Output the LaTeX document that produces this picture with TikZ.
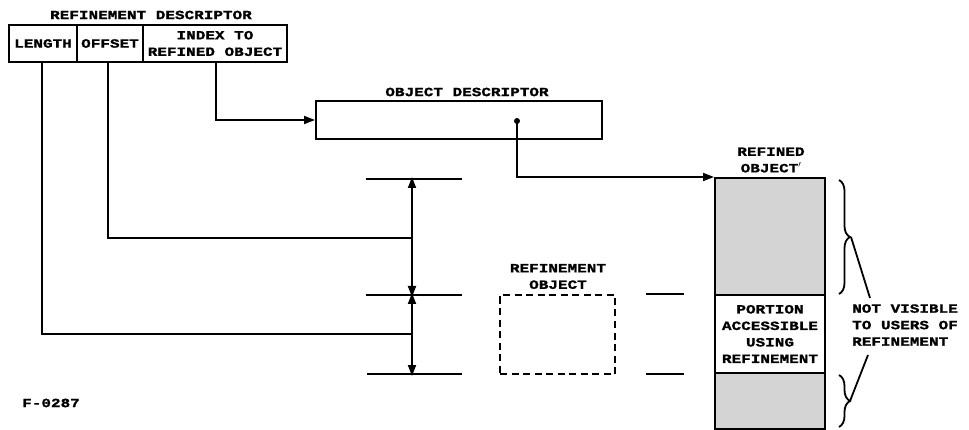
\documentclass[tikz,border=0pt]{standalone}
\usepackage{fontspec}
\newfontfamily\tw{Liberation Mono Bold}[FakeStretch=1.27, FakeBold=1.2]
\usetikzlibrary{arrows.meta,decorations.pathreplacing}
\begin{document}
\begin{tikzpicture}[x=1pt,y=-1pt,
  lbl/.style={font=\tw\fontsize{12.6}{16.5}\selectfont, inner sep=0pt, align=center},
  ln/.style={line width=1.8pt},
  cell/.style={draw, line width=2pt, inner sep=0pt, minimum height=37pt},
  tip/.style={-{Triangle[length=11pt,width=8pt]}},
  dtip/.style={{Triangle[length=11pt,width=8pt]}-{Triangle[length=11pt,width=8pt]}},
  shade/.style={draw, line width=2pt, fill=black!17, inner sep=0pt, minimum width=110pt},
  brc/.style={decorate, decoration={brace, amplitude=11pt}, line width=1.8pt}]
\useasboundingbox (0,0) rectangle (969,430);

% refinement descriptor
\node[lbl] (rdt) at (151,15) {REFINEMENT DESCRIPTOR};
\node[cell, minimum width=68pt] (len) at (43,43.5) {};
\node[lbl] (lent) at (len.center) {LENGTH};
\node[cell, minimum width=66pt] (off) at (110,43.5) {};
\node[lbl] (offt) at (off.center) {OFFSET};
\node[cell, minimum width=144pt] (idx) at (215,43.5) {};
\node[lbl] (idxt) at (idx.center) {INDEX TO\\REFINED OBJECT};

% object descriptor
\node[lbl] (odt) at (467,92) {OBJECT DESCRIPTOR};
\node[cell, minimum width=286pt, minimum height=38pt] (od) at (459,120) {};
\coordinate (dot) at (517,121);

% refined object
\node[lbl] (rot) at (771,160) {REFINED\\OBJECT$^{\prime}$};
\node[shade, minimum height=117pt] (rtop) at (770,236.5) {};
\node[draw, line width=2pt, inner sep=0pt, minimum width=110pt, minimum height=78pt] (rmid) at (770,334) {};
\node[lbl] (rmidt) at (rmid.center) {PORTION\\ACCESSIBLE\\USING\\REFINEMENT};
\node[shade, minimum height=56pt] (rbot) at (770,401) {};

% braces and note
\draw[brc] (839,180) -- (839,294);
\draw[brc] (839,375) -- (839,427);
\coordinate (b1) at (851,237);
\coordinate (b2) at (850,401);
\coordinate (n1) at (870,298);
\coordinate (n2) at (868,355);
\draw[ln] (b1) -- (n1);
\draw[ln] (b2) -- (n2);
\node[lbl, align=left, anchor=west] (nv) at (852,325) {NOT VISIBLE\\TO USERS OF\\REFINEMENT};

% dimension lines
\coordinate (a1) at (412,179);
\coordinate (a2) at (412,295);
\coordinate (a3) at (412,374);
\coordinate (j1) at (412,238);
\coordinate (j2) at (412,334);
\draw[ln] (366,179) -- (462,179);
\draw[ln] (366,295) -- (462,295);
\draw[ln] (367,374) -- (462,374);
\draw[ln] (646,294) -- (684,294);
\draw[ln] (646,374) -- (684,374);
\draw[ln, dtip] ([yshift=2pt]a1) -- ([yshift=-2pt]a2);
\draw[ln, dtip] ([yshift=2pt]a2) -- ([yshift=-2pt]a3);

% refinement object (dashed)
\node[lbl] (rot2) at (558,276.5) {REFINEMENT\\OBJECT};
\node[draw, line width=2pt, dash pattern=on 7pt off 4.5pt, inner sep=0pt, minimum width=115pt, minimum height=79pt] (robj) at (557.5,334.5) {};

% connectors
\draw[ln] ([xshift=-1pt]len.south) |- (j2);
\draw[ln] ([xshift=-2pt]off.south) |- (j1);
\draw[ln, tip] ([xshift=1pt]idx.south) |- (od.west);
\fill (dot) circle (3pt);
\draw[ln, tip] (dot) |- (rtop.north west);

\node[lbl, anchor=west] (fig) at (22,403) {F-0287};
\end{tikzpicture}
\end{document}
